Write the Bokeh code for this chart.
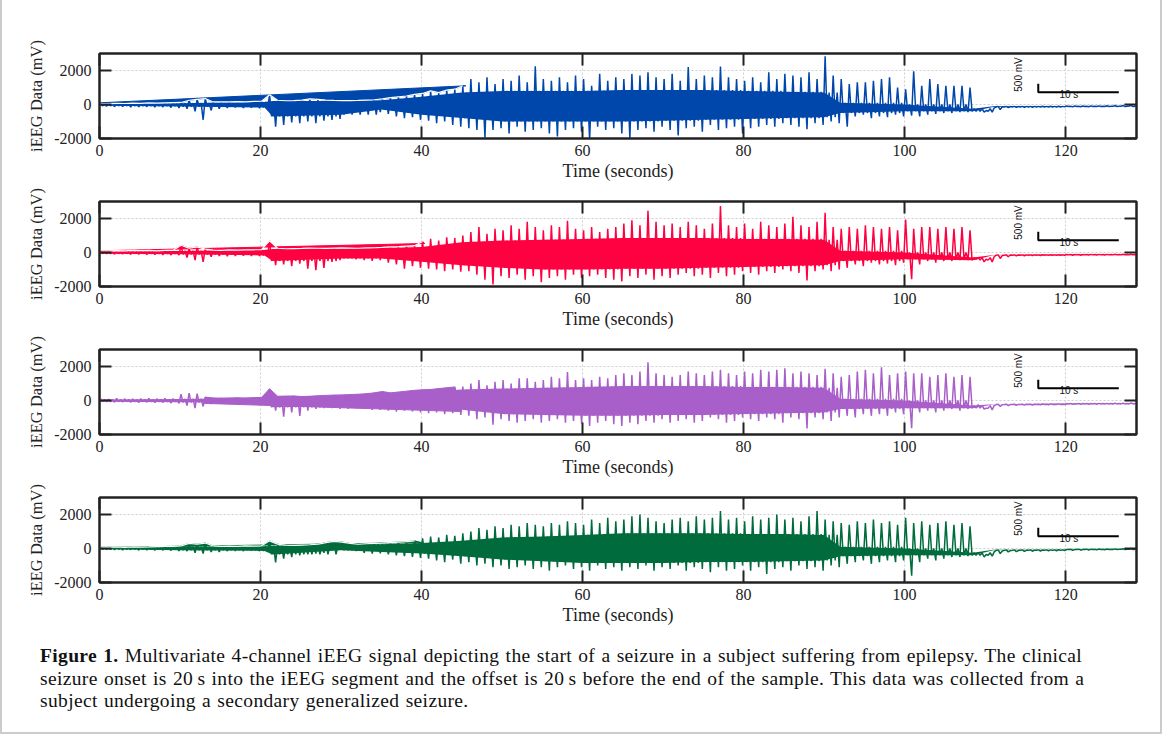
from math import pi
from bokeh.plotting import figure
from bokeh.layouts import column
from bokeh.models import Div, LinearAxis, FixedTicker, Range1d
from bokeh.core.properties import value
from bokeh.embed import file_html
from bokeh.resources import INLINE

# ---------------- data ----------------
seconds = list(range(129))          # 1-second bins, 0 .. 128 s
x_ticks = [0, 20, 40, 60, 80, 100, 120]
y_ticks = [-2000, 0, 2000]
y_tick_labels = {-2000: "-2000", 0: "0", 2000: "2000"}
x_end = 128.8

# channel 1 (blue): upper / lower envelope per second, mV
blue_hi = [60, 50, 70, 60, 80, 70, 90, 80, 100, 110, 120, 250, 300, 350, 150, 160, 150, 170, 160, 180,
           190, 570, 250, 220, 230, 260, 330, 300, 260, 240, 230, 230, 240, 260, 280, 330, 400, 450, 500, 600,
           650, 800, 700, 850, 900, 1100, 1500, 1300, 1600, 1200, 1500, 1400, 1700, 1300, 2250, 1500, 1400, 1600, 1300, 1700,
           1500, 1100, 1800, 1400, 1600, 1500, 1800, 1700, 1900, 1600, 1500, 1800, 1400, 2200, 1500, 1700, 1600, 2230, 1600, 1500,
           1400, 1600, 1300, 1900, 1500, 1800, 1700, 1600, 1900, 1500, 2840, 1700, 1500, 1200, 1300, 1300, 1400, 1500, 1600, 1000,
           900, 1960, 1100, 1500, 1200, 1100, 1100, 1100, 1000, -250, -350, -200, -130, -120, -120, -110, -110, -100, -100, -100,
           -90, -90, -90, -80, -80, -70, -60, -50, -40]
blue_lo = [-100, -130, -120, -150, -140, -130, -160, -150, -180, -200, -250, -400, -900, -350, -250, -200, -180, -200, -190, -220,
           -210, -1300, -1200, -1050, -1100, -1000, -1100, -950, -900, -850, -500, -350, -300, -350, -450, -550, -700, -800, -750, -900,
           -950, -1100, -1000, -1200, -1300, -1400, -1500, -1960, -1500, -1400, -1700, -1300, -1600, -1500, -1400, -1700, -1880, -1500, -1400, -1600,
           -2080, -1300, -1500, -1400, -1700, -2000, -1500, -1400, -1600, -1300, -1500, -1820, -1400, -1300, -1600, -1200, -1500, -1400, -1300, -1700,
           -1400, -1300, -1200, -1300, -1100, -1200, -1300, -1450, -1100, -1200, -1000, -1100, -1300, -700, -600, -800, -700, -750, -600, -700,
           -650, -700, -600, -550, -500, -500, -450, -450, -400, -450, -450, -300, -180, -170, -160, -160, -150, -150, -150, -140,
           -140, -130, -130, -120, -120, -110, -100, -90, -80]
blue_wedge_t = [0, 45.5]
blue_wedge_mv = [100, 1100]

# channel 2 (red)
red_hi = [100, 90, 110, 100, 120, 110, 120, 100, 130, 120, 430, 250, 330, 200, 140, 130, 150, 140, 150, 160,
          170, 690, 250, 220, 230, 240, 260, 250, 240, 260, 270, 260, 250, 270, 280, 300, 330, 350, 380, 400,
          650, 800, 700, 900, 850, 1000, 1200, 1500, 1100, 1400, 1300, 1600, 1400, 1800, 1500, 1300, 1600, 1500, 1860, 1400,
          1300, 1500, 1200, 1400, 1500, 1700, 1900, 1600, 2450, 1800, 1600, 1700, 1500, 1800, 1600, 1400, 1700, 2740, 1600, 1500,
          1700, 1400, 1800, 1600, 1500, 1700, 2100, 1600, 1500, 1800, 2330, 1500, 1400, 1500, 1400, 1600, 1500, 1400, 1500, 1300,
          1940, 1400, 1500, 1500, 1400, 1500, 1400, 1500, 1300, -300, -400, -250, -180, -150, -150, -140, -140, -130, -130, -130,
          -120, -120, -120, -110, -110, -110, -100, -100, -100]
red_lo = [-80, -100, -90, -120, -110, -130, -120, -140, -150, -160, -300, -450, -550, -250, -200, -220, -200, -190, -210, -200,
          -220, -750, -700, -800, -650, -950, -1040, -900, -550, -450, -350, -400, -450, -500, -450, -600, -700, -950, -800, -900,
          -950, -1000, -1100, -1000, -1130, -1100, -1300, -1600, -1880, -1400, -1500, -1300, -1600, -1400, -1750, -1500, -1400, -1600, -1300, -1500,
          -1400, -1300, -1500, -1600, -1700, -1400, -1500, -1300, -1600, -1400, -1500, -1300, -1200, -1400, -1300, -1500, -1200, -1400, -1300, -1100,
          -1200, -1300, -1100, -1200, -1000, -1100, -1200, -1650, -1100, -1000, -1100, -1000, -900, -700, -800, -600, -700, -650, -750, -600,
          -1570, -700, -500, -600, -500, -500, -450, -450, -400, -550, -550, -350, -250, -200, -190, -180, -180, -170, -170, -170,
          -160, -160, -150, -150, -150, -140, -140, -140, -140]
red_wedge_t = [0, 40.4]
red_wedge_mv = [100, 530]

# channel 3 (purple)
purple_hi = [100, 80, 120, 100, 90, 110, 120, 100, 130, 110, 370, 430, 400, 200, 150, 140, 150, 160, 150, 170,
             180, 690, 250, 260, 270, 230, 250, 280, 300, 320, 330, 350, 370, 400, 450, 530, 450, 500, 550, 600,
             630, 650, 700, 750, 800, 820, 1000, 1200, 900, 1100, 1200, 1000, 1300, 1300, 1100, 1200, 1400, 1300, 1670, 1200,
             1300, 1200, 1400, 1300, 1500, 1600, 1500, 1700, 2250, 1600, 1500, 1400, 1500, 1700, 1600, 1500, 1700, 1800, 1600, 1500,
             1700, 1600, 1800, 1700, 1800, 1900, 1600, 1700, 1600, 1500, 1860, 1600, 1400, 1500, 1700, 1800, 1600, 1960, 1500, 1600,
             1700, 1600, 1600, 1400, 1500, 1600, 1400, 1500, 1400, -250, -450, -300, -250, -240, -230, -220, -220, -210, -200, -200,
             -190, -190, -180, -180, -170, -170, -160, -160, -150]
purple_lo = [-80, -100, -90, -110, -120, -100, -130, -120, -150, -170, -300, -450, -350, -200, -180, -170, -160, -170, -180, -170,
             -200, -600, -950, -700, -900, -600, -500, -450, -450, -500, -500, -450, -500, -550, -550, -600, -650, -600, -650, -700,
             -750, -700, -800, -750, -850, -900, -1100, -1000, -1430, -1100, -1200, -1300, -1200, -1100, -1300, -1200, -1100, -1300, -1200, -1350,
             -1500, -1300, -1200, -1400, -1500, -1300, -1400, -1200, -1300, -1100, -1300, -1200, -1100, -1300, -1200, -1000, -1100, -1300, -1200, -1000,
             -1100, -1200, -1000, -1100, -1300, -1000, -1100, -1650, -1000, -1100, -1200, -1000, -900, -1000, -800, -900, -800, -900, -700, -800,
             -1630, -700, -600, -700, -600, -500, -600, -500, -450, -500, -550, -350, -300, -280, -270, -260, -250, -250, -240, -240,
             -230, -230, -220, -220, -210, -210, -200, -200, -190]
purple_wedge_t = [13, 45]
purple_wedge_mv = [-170, -650]

# channel 4 (green)
green_hi = [80, 70, 90, 60, 100, 80, 90, 110, 120, 130, 150, 300, 250, 320, 150, 130, 140, 120, 150, 140,
            160, 450, 250, 200, 180, 200, 220, 250, 350, 420, 380, 300, 250, 280, 300, 320, 350, 380, 400, 450,
            600, 700, 650, 800, 750, 900, 1000, 1200, 1100, 1300, 1200, 1400, 1300, 1500, 1400, 1300, 1500, 1400, 1600, 1500,
            1400, 1700, 1500, 1800, 1600, 1700, 1900, 2000, 1800, 1600, 1500, 1700, 1800, 1600, 1900, 1700, 1800, 2200, 1700, 1800,
            1600, 1900, 1700, 1800, 2000, 1700, 1800, 1600, 1900, 2200, 1700, 1600, 1500, 1400, 1600, 1500, 1700, 1500, 1600, 1400,
            1800, 1500, 1600, 1400, 1500, 1600, 1400, 1500, 1300, -250, -350, -200, -150, -130, -120, -110, -100, -90, -80, -70,
            -60, -60, -50, -40, -30, -30, -20, -10, 0]
green_lo = [-60, -80, -90, -70, -100, -90, -110, -100, -120, -140, -150, -250, -300, -200, -200, -150, -140, -150, -130, -150,
            -170, -820, -600, -500, -400, -350, -300, -250, -100, -50, -100, -150, -250, -300, -280, -350, -400, -450, -500, -550,
            -600, -700, -800, -650, -900, -800, -1000, -900, -1100, -1000, -1200, -1100, -1000, -1200, -1100, -1300, -1100, -1000, -1200, -1100,
            -1300, -1000, -1200, -1100, -1300, -1100, -1200, -1000, -1300, -1100, -1200, -1000, -1300, -1100, -1200, -1400, -1100, -1300, -1200, -1000,
            -1300, -1100, -1500, -1200, -1100, -1300, -1000, -1200, -1100, -1300, -1000, -1100, -900, -800, -700, -900, -800, -700, -800, -700,
            -1600, -800, -600, -700, -600, -500, -500, -450, -400, -500, -450, -300, -200, -180, -170, -160, -150, -140, -130, -120,
            -110, -100, -90, -80, -70, -60, -50, -40, -30]
green_wedge_t = [0, 40]
green_wedge_mv = [50, 350]

# dense inner band of each trace, given at the start of each time segment
core_t = [0, 10, 20.5, 21.5, 30, 35, 40, 45, 50, 55, 60, 65, 70, 75, 80, 85, 90, 92, 100, 108.5, 111, 120]
blue_core_hi = [40, 80, 150, 200, 200, 250, 450, 700, 800, 800, 800, 850, 850, 850, 800, 750, 700, 100, 0, -250, -110, -100]
blue_core_lo = [-80, -120, -180, -700, -600, -300, -600, -800, -1000, -1000, -1000, -1000, -950, -900, -850, -800, -750, -500, -400, -400, -150, -120]
red_core_hi = [60, 90, 150, 200, 220, 260, 330, 600, 700, 750, 800, 850, 850, 850, 800, 800, 750, 100, 0, -300, -140, -120]
red_core_lo = [-70, -110, -170, -500, -350, -350, -550, -750, -900, -1000, -1000, -950, -950, -900, -850, -800, -750, -500, -400, -450, -160, -140]
purple_core_hi = [60, 90, 150, 250, 280, 350, 500, 650, 700, 750, 800, 850, 850, 850, 800, 800, 750, 100, 0, -300, -220, -180]
purple_core_lo = [-70, -110, -160, -400, -350, -350, -450, -550, -800, -850, -900, -900, -850, -850, -800, -750, -700, -500, -450, -450, -240, -200]
green_core_hi = [50, 90, 130, 150, 300, 250, 320, 450, 650, 700, 800, 900, 900, 900, 850, 850, 800, 100, 0, -250, -80, -40]
green_core_lo = [-50, -100, -140, -350, -100, -200, -300, -450, -650, -750, -850, -850, -850, -800, -800, -750, -700, -450, -400, -400, -110, -60]

# scale bar (10 s by 500 mV) and its labels
scalebar_t = [116.6, 116.6, 126.6]
scalebar_mv = [1224, 724, 724]
scalebar_label_t = [114.2, 120.4]
scalebar_label_mv = [1765, 606]
scalebar_labels = ["500 mV", "10 s"]

caption_html = (
    "<b>Figure 1.</b> Multivariate 4-channel iEEG signal depicting the start of a seizure in a subject suffering from epilepsy. The clinical<br>"
    "seizure onset is 20\u2009s into the iEEG segment and the offset is 20\u2009s before the end of the sample. This data was collected from a<br>"
    "subject undergoing a secondary generalized seizure."
)

SERIF = "Liberation Serif"
AXIS_COLOR = "#222222"


def segment_value(values, t):
    k = 0
    for i, start in enumerate(core_t):
        if start <= t:
            k = i
    return values[k]


def make_panel(hi, lo, core_hi, core_lo, color, wedge_t, wedge_mv, white_line, top_border, height):
    p = figure(width=1148, height=height, x_range=Range1d(0, x_end), y_range=Range1d(-2000, 3000),
               output_backend="svg", toolbar_location=None,
               min_border_left=97, min_border_right=14, min_border_top=top_border, min_border_bottom=44)
    p.background_fill_color = "white"
    p.border_fill_color = "white"
    p.outline_line_color = AXIS_COLOR
    p.outline_line_width = 2

    # signal: each second swings to its outer peak, the inner band, and its outer trough
    xs, ys = [], []
    for s, h, l in zip(seconds, hi, lo):
        ch = segment_value(core_hi, s + 0.5)
        cl = segment_value(core_lo, s + 0.5)
        xs += [s + 0.125, s + 0.375, s + 0.625, s + 0.875]
        ys += [h, cl, ch, l]

    # wedge artefact: straight edge + the signal's upper path
    mid_x = [s + 0.125 for s in seconds if wedge_t[0] <= s + 0.125 <= wedge_t[1]]
    mid_y = [h for s, h in zip(seconds, hi) if wedge_t[0] <= s + 0.125 <= wedge_t[1]]
    px = [wedge_t[0], wedge_t[1]] + mid_x[::-1]
    py = [wedge_mv[0], wedge_mv[1]] + mid_y[::-1]
    p.varea(x=core_t + [x_end], y1=core_lo + core_lo[-1:], y2=core_hi + core_hi[-1:], fill_color=color)
    p.patch(px, py, fill_color=color, line_color=color, line_width=1)
    p.line(xs, ys, line_color=color, line_width=1.5)
    if white_line:
        p.line(mid_x, mid_y, line_color="white", line_width=1.2)

    # scale bar
    p.line(scalebar_t, scalebar_mv, line_color="black", line_width=2)
    p.text(x=scalebar_label_t[:1], y=scalebar_label_mv[:1], text=scalebar_labels[:1], angle=pi / 2,
           text_align="center", text_baseline="middle", text_font=value("Liberation Sans"),
           text_font_size="10px", text_color="#111111")
    p.text(x=scalebar_label_t[1:], y=scalebar_label_mv[1:], text=scalebar_labels[1:],
           text_align="center", text_baseline="middle", text_font=value("Liberation Sans"),
           text_font_size="10px", text_color="#111111")

    # grid
    p.xgrid.ticker = FixedTicker(ticks=x_ticks)
    p.ygrid.ticker = FixedTicker(ticks=y_ticks)
    for g in (p.xgrid, p.ygrid):
        g.grid_line_color = "#cfcfcf"
        g.grid_line_dash = "2 2"
        g.grid_line_width = 1

    # bottom / left axes
    xa = p.xaxis[0]
    xa.ticker = FixedTicker(ticks=x_ticks)
    xa.axis_label = "Time (seconds)"
    ya = p.yaxis[0]
    ya.ticker = FixedTicker(ticks=y_ticks)
    ya.major_label_overrides = y_tick_labels
    ya.axis_label = "iEEG Data (mV)"
    for ax in (xa, ya):
        ax.axis_line_color = AXIS_COLOR
        ax.axis_line_width = 2
        ax.major_tick_line_color = AXIS_COLOR
        ax.major_tick_line_width = 2
        ax.major_tick_in = 12
        ax.major_tick_out = 0
        ax.minor_tick_line_color = None
        ax.major_label_text_font = SERIF
        ax.major_label_text_font_size = "16px"
        ax.major_label_text_color = "#222222"
        ax.axis_label_text_font = SERIF
        ax.axis_label_text_font_style = "normal"
        ax.axis_label_text_color = "#222222"
    xa.axis_label_text_font_size = "18px"
    ya.axis_label_text_font_size = "16.5px"
    xa.major_label_standoff = 6
    xa.axis_label_standoff = 2
    ya.major_label_standoff = 8
    ya.axis_label_standoff = 5

    # top / right axes: ticks only
    top = LinearAxis(ticker=FixedTicker(ticks=x_ticks))
    right = LinearAxis(ticker=FixedTicker(ticks=y_ticks))
    for ax in (top, right):
        ax.axis_line_color = AXIS_COLOR
        ax.axis_line_width = 2
        ax.major_tick_line_color = AXIS_COLOR
        ax.major_tick_line_width = 2
        ax.major_tick_in = 12
        ax.major_tick_out = 0
        ax.minor_tick_line_color = None
        ax.major_label_text_font_size = "0px"
        ax.major_label_standoff = 0
    p.add_layout(top, "above")
    p.add_layout(right, "right")
    return p


p1 = make_panel(blue_hi, blue_lo, blue_core_hi, blue_core_lo, "#0047AB", blue_wedge_t, blue_wedge_mv, True, 53, 183)
p2 = make_panel(red_hi, red_lo, red_core_hi, red_core_lo, "#FF0040", red_wedge_t, red_wedge_mv, True, 18, 148)
p3 = make_panel(purple_hi, purple_lo, purple_core_hi, purple_core_lo, "#A95FC9", purple_wedge_t, purple_wedge_mv, False, 18, 148)
p4 = make_panel(green_hi, green_lo, green_core_hi, green_core_lo, "#006B3C", green_wedge_t, green_wedge_mv, True, 18, 148)

caption = Div(text=caption_html, width=1148, height=95,
              styles={"font-family": "'Liberation Serif', serif", "font-size": "19.5px",
                      "letter-spacing": "0.35px", "word-spacing": "1px",
                      "line-height": "22.5px", "color": "#111111",
                      "padding-left": "33px", "padding-top": "13px", "white-space": "nowrap"})

page = column(p1, p2, p3, p4, caption, spacing=0,
              styles={"border-left": "2px solid #cccccc", "border-right": "2px solid #cccccc",
                      "border-bottom": "2px solid #cccccc", "background": "white"})

open("out.html", "w").write(file_html(page, INLINE))
